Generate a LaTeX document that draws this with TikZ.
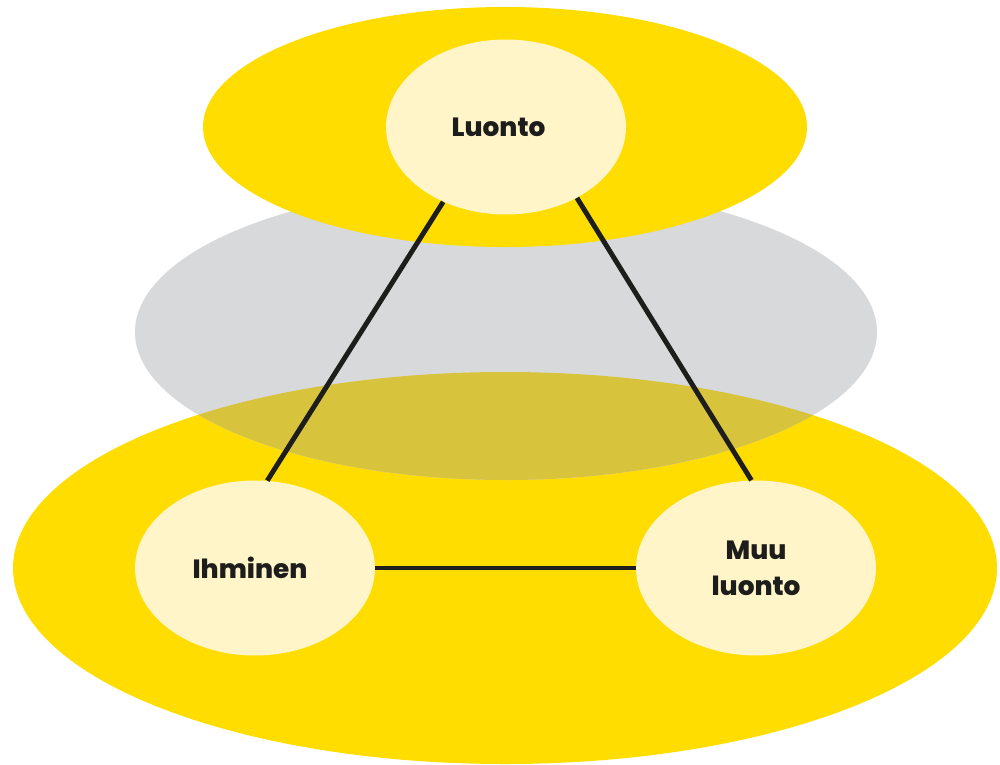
\documentclass[tikz,border=0pt]{standalone}
\usepackage{fontspec}
\setmainfont{Poppins}[BoldFont={Poppins ExtraBold}]
\usetikzlibrary{positioning, shapes.geometric}

\definecolor{keltainen}{HTML}{FFDD00}
\definecolor{vaalea}{HTML}{FFF5C8}
\definecolor{harmaa}{HTML}{D8D9DA}
\definecolor{oliivi}{HTML}{D8C43C}
\definecolor{musta}{HTML}{1D1D1B}

\tikzset{
    pallo/.style={ellipse, fill=vaalea, minimum width=4.8cm, minimum height=3.5cm,
        inner sep=0pt, align=center, font=\bfseries\fontsize{15}{20.5}\selectfont, text=musta},
    yhteys/.style={draw=musta, line width=2.8pt}
}

\begin{document}
\begin{tikzpicture}[x=0.02cm, y=-0.02cm]
    \useasboundingbox (0,0) rectangle (1000,764);

    % taustat
    \fill[keltainen] (505,568) ellipse [x radius=492, y radius=196];
    \fill[harmaa] (506,332) ellipse [x radius=371, y radius=148];
    \begin{scope}
        \clip (505,568) ellipse [x radius=492, y radius=196];
        \fill[oliivi] (506,332) ellipse [x radius=371, y radius=148];
    \end{scope}
    \fill[keltainen] (505,127) ellipse [x radius=302, y radius=120];

    % solmut
    \node (Luonto) [pallo] at (506,127) {\hspace*{-0.3cm}Luonto};
    \node (Ihminen) [pallo] at (255,568) {Ihminen\hspace*{0.2cm}};
    \node (MuuLuonto) [pallo] at (756,568) {Muu\\luonto};

    \draw[yhteys] (Luonto.230) -- (Ihminen.82);
    \draw[yhteys] (Luonto.315) -- (MuuLuonto.93);
    \draw[yhteys] (Ihminen) -- (MuuLuonto);
\end{tikzpicture}
\end{document}
